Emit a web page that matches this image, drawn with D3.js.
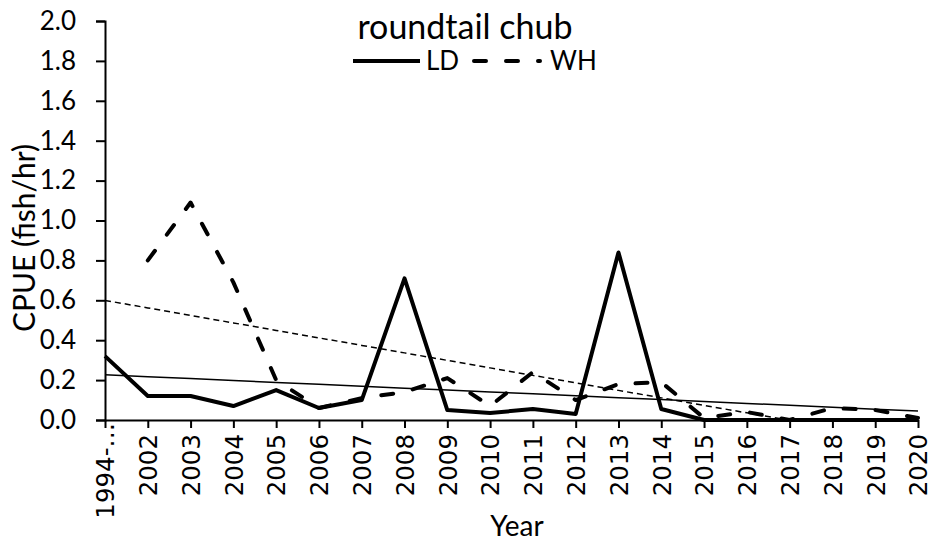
<!DOCTYPE html>
<html>
<head>
<meta charset="utf-8">
<script src="https://cdn.jsdelivr.net/npm/d3@7"></script>
<style>
    body { margin: 0; background: #ffffff; }
    svg { display: block; }
</style>
</head>
<body>
<div id="chart"></div>
<script>
// categories on the x axis
var years = ['1994-…', '2002', '2003', '2004', '2005', '2006', '2007', '2008', '2009', '2010',
    '2011', '2012', '2013', '2014', '2015', '2016', '2017', '2018', '2019', '2020'];

// CPUE (fish/hr) for each site, null where there is no sample
var ldValues = [0.32, 0.12, 0.12, 0.07, 0.15, 0.06, 0.10, 0.71, 0.05, 0.035,
    0.055, 0.03, 0.84, 0.055, 0, 0, 0, 0, 0, 0];
var whValues = [null, 0.80, 1.09, 0.69, 0.20, 0.06, 0.11, 0.14, 0.21, 0.07,
    0.24, 0.10, 0.18, 0.19, 0.01, 0.04, 0, 0.06, 0.05, 0.01];

var yTicks = [0, 0.2, 0.4, 0.6, 0.8, 1.0, 1.2, 1.4, 1.6, 1.8, 2.0];

var seriesNames = ['LD', 'WH'];
var chartTitle = 'roundtail chub';

var width = 930;
var height = 542;
var margin = {left: 105, right: 12, top: 21, bottom: 122};
var labelFont = 'Lato, "Open Sans", sans-serif';

var svg = d3.select('#chart')
    .append('svg')
    .attr('width', width)
    .attr('height', height);

var x = d3.scalePoint()
    .domain(years)
    .range([margin.left, width - margin.right]);

var y = d3.scaleLinear()
    .domain([0, 2])
    .range([height - margin.bottom, margin.top]);

svg.append('defs')
    .append('clipPath')
    .attr('id', 'plot-clip')
    .append('rect')
    .attr('x', margin.left)
    .attr('y', margin.top)
    .attr('width', width - margin.right - margin.left)
    .attr('height', height - margin.bottom - margin.top);

// least squares trend over the category index (1..n), like the spreadsheet trendline
function trend(values) {
    var pts = [];
    values.forEach(function (v, i) {
        if (v !== null) {
            pts.push([i + 1, v]);
        }
    });
    var mx = d3.mean(pts, function (p) { return p[0]; });
    var my = d3.mean(pts, function (p) { return p[1]; });
    var sxy = d3.sum(pts, function (p) { return (p[0] - mx) * (p[1] - my); });
    var sxx = d3.sum(pts, function (p) { return (p[0] - mx) * (p[0] - mx); });
    var slope = sxy / sxx;
    return years.map(function (d, i) {
        return {year: d, val: my + slope * (i + 1 - mx)};
    });
}

var line = d3.line()
    .defined(function (d) { return d.val !== null; })
    .x(function (d) { return x(d.year); })
    .y(function (d) { return y(d.val); });

function toPoints(values) {
    return years.map(function (d, i) {
        return {year: d, val: values[i]};
    });
}

var plot = svg.append('g')
    .attr('clip-path', 'url(#plot-clip)');

// trend lines (thin)
plot.append('path')
    .datum(trend(ldValues))
    .attr('d', line)
    .attr('fill', 'none')
    .attr('stroke', '#000')
    .attr('stroke-width', 1.5);

plot.append('path')
    .datum(trend(whValues))
    .attr('d', line)
    .attr('fill', 'none')
    .attr('stroke', '#000')
    .attr('stroke-width', 1.5)
    .attr('stroke-dasharray', '6,4');

// data lines
svg.append('path')
    .datum(toPoints(whValues))
    .attr('d', line)
    .attr('fill', 'none')
    .attr('stroke', '#000')
    .attr('stroke-width', 4)
    .attr('stroke-linecap', 'round')
    .attr('stroke-linejoin', 'round')
    .attr('stroke-dasharray', '12,20');

svg.append('path')
    .datum(toPoints(ldValues))
    .attr('d', line)
    .attr('fill', 'none')
    .attr('stroke', '#000')
    .attr('stroke-width', 4)
    .attr('stroke-linejoin', 'round');

// axes
var yAxis = svg.append('g')
    .attr('transform', 'translate(' + margin.left + ',0)')
    .call(d3.axisLeft(y)
        .tickValues(yTicks)
        .tickSize(9)
        .tickPadding(20)
        .tickFormat(d3.format('.1f')));

var xAxis = svg.append('g')
    .attr('transform', 'translate(0,' + y(0) + ')')
    .call(d3.axisBottom(x)
        .tickSize(8)
        .tickSizeOuter(0));

[yAxis, xAxis].forEach(function (ax) {
    ax.select('.domain')
        .attr('stroke', '#000')
        .attr('stroke-width', 2);
    ax.selectAll('.tick line')
        .attr('stroke', '#000')
        .attr('stroke-width', 2);
});

yAxis.selectAll('.tick text')
    .style('font-family', labelFont)
    .style('font-size', '26px')
    .attr('fill', '#000');

xAxis.selectAll('.tick text')
    .attr('transform', 'rotate(-90)')
    .attr('text-anchor', 'end')
    .attr('x', function (d, i) { return i === 0 ? -3 : -14; })
    .attr('y', 0)
    .attr('dy', '0.36em')
    .style('font-family', '"DejaVu Sans", sans-serif')
    .style('font-size', '24.5px')
    .attr('fill', '#000');

// axis titles
svg.append('text')
    .attr('transform', 'translate(35,238) rotate(-90)')
    .attr('text-anchor', 'middle')
    .style('font-family', labelFont)
    .style('font-size', '30px')
    .text('CPUE (fish/hr)');

svg.append('text')
    .attr('x', 517)
    .attr('y', 536)
    .attr('text-anchor', 'middle')
    .style('font-family', labelFont)
    .style('font-size', '28px')
    .text('Year');

// title and legend
svg.append('text')
    .attr('x', 465)
    .attr('y', 39)
    .attr('text-anchor', 'middle')
    .style('font-family', labelFont)
    .style('font-size', '34px')
    .text(chartTitle);

var legend = svg.append('g');
legend.append('line')
    .attr('x1', 353).attr('x2', 420)
    .attr('y1', 61).attr('y2', 61)
    .attr('stroke', '#000')
    .attr('stroke-width', 4);
legend.append('text')
    .attr('x', 426)
    .attr('y', 70)
    .style('font-family', labelFont)
    .style('font-size', '26px')
    .text(seriesNames[0]);
legend.append('line')
    .attr('x1', 474).attr('x2', 540)
    .attr('y1', 61).attr('y2', 61)
    .attr('stroke', '#000')
    .attr('stroke-width', 4)
    .attr('stroke-linecap', 'round')
    .attr('stroke-dasharray', '12,20');
legend.append('text')
    .attr('x', 550)
    .attr('y', 70)
    .style('font-family', labelFont)
    .style('font-size', '26px')
    .text(seriesNames[1]);
</script>
</body>
</html>
